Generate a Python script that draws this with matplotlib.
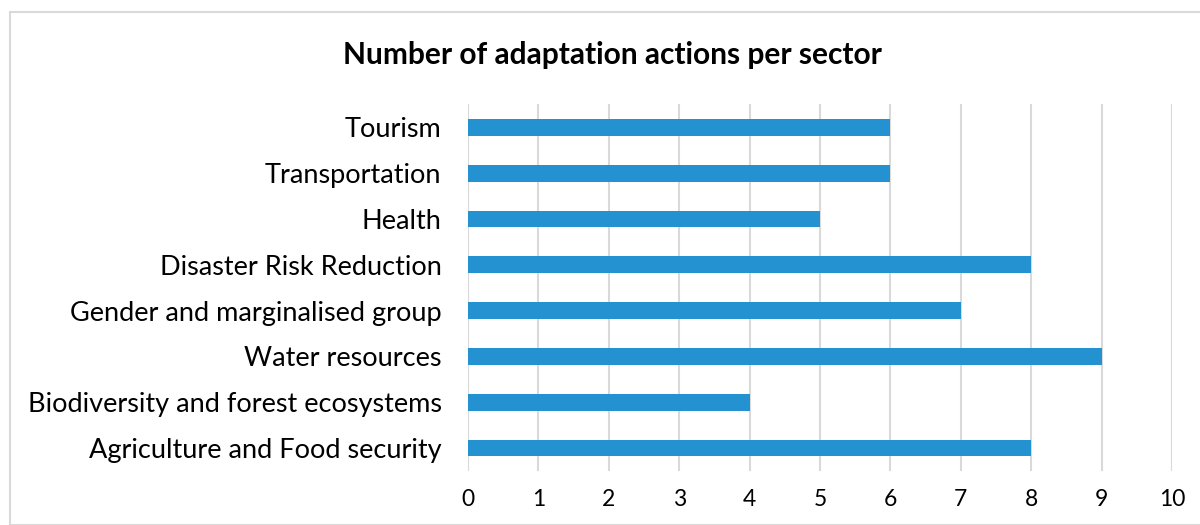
import matplotlib.pyplot as plt
from matplotlib.patches import Rectangle

# datos del gráfico (de abajo hacia arriba)
sectores = ['Agriculture and Food security', 'Biodiversity and forest ecosystems',
            'Water resources', 'Gender and marginalised group',
            'Disaster Risk Reduction', 'Health', 'Transportation', 'Tourism']
acciones = [8, 4, 9, 7, 8, 5, 6, 6]
ticks_x = list(range(0, 11))

plt.rcParams['font.family'] = ['Lato', 'DejaVu Sans']

fig = plt.figure(figsize=(12, 5.25), dpi=100)
ax = fig.add_axes([0.39, 0.103, 0.5867, 0.698])

ax.barh(sectores, acciones, height=0.37, color='#2491D0', zorder=3)
ax.set_xlim(0, 10)
ax.set_ylim(-0.5, len(sectores) - 0.5)
ax.set_xticks(ticks_x)
ax.grid(axis='x', color='#d9d9d9', linewidth=1.5, zorder=0)
for s in ax.spines.values():
    s.set_visible(False)
ax.tick_params(axis='both', length=0, colors='black')
ax.tick_params(axis='y', pad=19, labelsize=19.5)
ax.tick_params(axis='x', pad=13, labelsize=16.5)

fig.text(0.51, 0.895, 'Number of adaptation actions per sector',
         ha='center', va='center', fontsize=21.5, fontweight='bold')

# marco gris del gráfico
fig.patches.append(Rectangle((10 / 1200, 0), 1.1, 1 - 12 / 525, transform=fig.transFigure,
                             fill=False, edgecolor='#d9d9d9', linewidth=1.5))

fig.savefig('out.png', dpi=100)
